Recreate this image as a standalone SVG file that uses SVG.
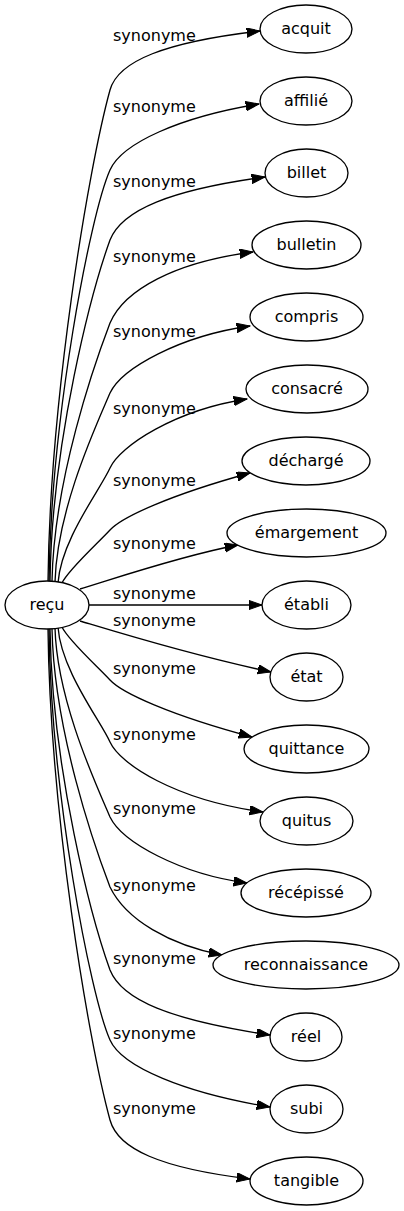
<svg xmlns="http://www.w3.org/2000/svg" width="404" height="1211" viewBox="0 0 404 1211">
<style>
.n ellipse{fill:#fff;stroke:#000;stroke-width:1.33}
.n text{font-family:"DejaVu Sans",sans-serif;font-size:16px;text-anchor:middle;fill:#000}
.e path{fill:none;stroke:#000;stroke-width:1.33;marker-end:url(#arr)}
.e text{font-family:"DejaVu Sans",sans-serif;font-size:16px;text-anchor:start;fill:#000}
</style>
<defs>
<marker id="arr" markerUnits="userSpaceOnUse" markerWidth="14" markerHeight="10" refX="13.3" refY="4.67" orient="auto">
<path d="M0,0 L13.3,4.67 L0,9.33 z" fill="#000" stroke="#000" stroke-width="1"/>
</marker>
</defs>
<rect width="404" height="1211" fill="#fff"/>
<g id="connectors" class="e">
<g id="e-acquit"><path d="M48,581 C50,400 88,170 110,90 C118,61 165,42 260,31"/><text x="113" y="41">synonyme</text></g>
<g id="e-affilie"><path d="M49,581 C51,420 90,215 110,170 C122,143 180,117 259,104"/><text x="113" y="112">synonyme</text></g>
<g id="e-billet"><path d="M50,581 C52,440 92,290 110,240 C122,210 170,190 265,177"/><text x="113" y="187">synonyme</text></g>
<g id="e-bulletin"><path d="M52,581 C54,480 94,365 110,323 C124,290 175,262 253,252"/><text x="113" y="262">synonyme</text></g>
<g id="e-compris"><path d="M55,582 C57,510 95,428 110,393 C122,368 180,336 250,326"/><text x="113" y="337">synonyme</text></g>
<g id="e-consacre"><path d="M58,583 C61,540 100,490 110,468 C120,446 175,410 247,399"/><text x="113" y="414">synonyme</text></g>
<g id="e-decharge"><path d="M62,583 C68,570 98,543 110,530 C122,517 170,495 250,473"/><text x="113" y="486">synonyme</text></g>
<g id="e-emargement"><path d="M80,589 C110,580 180,556 238,545"/><text x="113" y="549">synonyme</text></g>
<g id="e-etabli"><path d="M89,605 L262,605"/><text x="113" y="599">synonyme</text></g>
<g id="e-etat"><path d="M80,621 C110,630 190,655 271,672"/><text x="113" y="626">synonyme</text></g>
<g id="e-quittance"><path d="M62,627 C68,640 98,667 110,680 C122,693 170,715 252,737"/><text x="113" y="674">synonyme</text></g>
<g id="e-quitus"><path d="M58,627 C61,670 100,720 110,742 C120,764 175,800 263,812"/><text x="113" y="740">synonyme</text></g>
<g id="e-recepisse"><path d="M55,628 C57,700 95,782 110,817 C122,842 180,874 247,883"/><text x="113" y="814">synonyme</text></g>
<g id="e-reconnaissance"><path d="M52,629 C54,730 94,845 110,887 C126,920 170,945 222,955"/><text x="113" y="891">synonyme</text></g>
<g id="e-reel"><path d="M50,629 C52,770 92,920 110,970 C122,1000 170,1020 270,1035"/><text x="113" y="964">synonyme</text></g>
<g id="e-subi"><path d="M49,629 C51,790 90,995 110,1040 C122,1067 185,1093 270,1107"/><text x="113" y="1039">synonyme</text></g>
<g id="e-tangible"><path d="M48,629 C50,810 88,1040 110,1120 C118,1149 160,1168 250,1179"/><text x="113" y="1114">synonyme</text></g>
</g>
<g id="n-recu" class="n"><ellipse cx="47" cy="605" rx="42" ry="24"/><text x="47" y="610">reçu</text></g>
<g id="n-acquit" class="n"><ellipse cx="306" cy="29" rx="46" ry="24"/><text x="306" y="34">acquit</text></g>
<g id="n-affilie" class="n"><ellipse cx="306" cy="101" rx="46" ry="24"/><text x="306" y="106">affilié</text></g>
<g id="n-billet" class="n"><ellipse cx="306.5" cy="173" rx="41.5" ry="24"/><text x="306.5" y="178">billet</text></g>
<g id="n-bulletin" class="n"><ellipse cx="306.5" cy="245" rx="54.5" ry="24"/><text x="306.5" y="250">bulletin</text></g>
<g id="n-compris" class="n"><ellipse cx="306.5" cy="317" rx="56.5" ry="24"/><text x="306.5" y="322">compris</text></g>
<g id="n-consacre" class="n"><ellipse cx="307" cy="389" rx="61" ry="24"/><text x="307" y="394">consacré</text></g>
<g id="n-decharge" class="n"><ellipse cx="306" cy="461" rx="64" ry="24"/><text x="306" y="466">déchargé</text></g>
<g id="n-emargement" class="n"><ellipse cx="306.5" cy="533" rx="79.5" ry="24"/><text x="306.5" y="538">émargement</text></g>
<g id="n-etabli" class="n"><ellipse cx="306.5" cy="605" rx="44.5" ry="24"/><text x="306.5" y="610">établi</text></g>
<g id="n-etat" class="n"><ellipse cx="306.5" cy="677" rx="36.5" ry="24"/><text x="306.5" y="682">état</text></g>
<g id="n-quittance" class="n"><ellipse cx="306.5" cy="749" rx="62.5" ry="24"/><text x="306.5" y="754">quittance</text></g>
<g id="n-quitus" class="n"><ellipse cx="306.5" cy="821" rx="46.5" ry="24"/><text x="306.5" y="826">quitus</text></g>
<g id="n-recepisse" class="n"><ellipse cx="306" cy="893" rx="65" ry="24"/><text x="306" y="898">récépissé</text></g>
<g id="n-reconnaissance" class="n"><ellipse cx="306" cy="965" rx="93" ry="24"/><text x="306" y="970">reconnaissance</text></g>
<g id="n-reel" class="n"><ellipse cx="306" cy="1037" rx="36" ry="24"/><text x="306" y="1042">réel</text></g>
<g id="n-subi" class="n"><ellipse cx="306.5" cy="1109" rx="36.5" ry="24"/><text x="306.5" y="1114">subi</text></g>
<g id="n-tangible" class="n"><ellipse cx="306.5" cy="1181" rx="56.5" ry="24"/><text x="306.5" y="1186">tangible</text></g>
</svg>
